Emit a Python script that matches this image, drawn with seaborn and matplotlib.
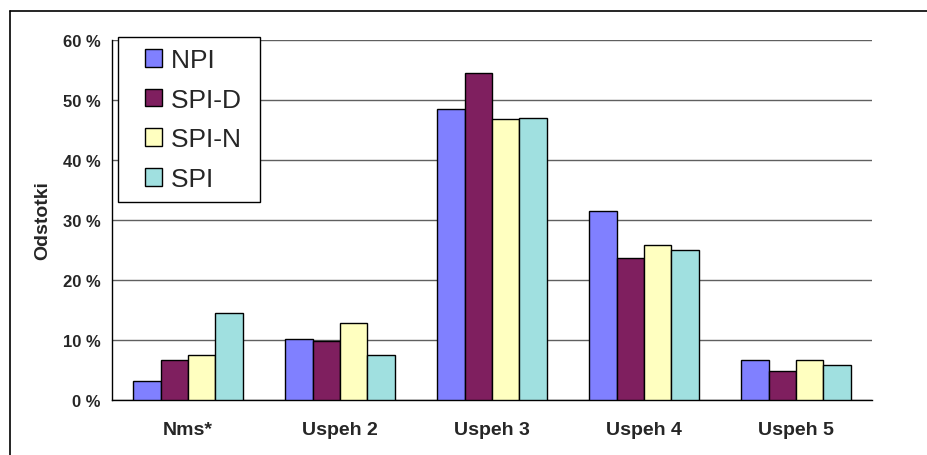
import matplotlib
matplotlib.use("Agg")
import matplotlib.pyplot as plt
from matplotlib.patches import Rectangle
from matplotlib.lines import Line2D
from matplotlib.legend_handler import HandlerPatch
from matplotlib.ticker import FixedLocator, FuncFormatter
import seaborn as sns
import pandas as pd

categories = ["Nms*", "Uspeh 2", "Uspeh 3", "Uspeh 4", "Uspeh 5"]
series = ["NPI", "SPI-D", "SPI-N", "SPI"]
npi = [3.2, 10.1, 48.5, 31.5, 6.7]
spi_d = [6.7, 9.9, 54.5, 23.7, 4.9]
spi_n = [7.5, 12.9, 46.8, 25.8, 6.7]
spi = [14.5, 7.5, 47.0, 25.0, 5.8]
colors = ["#8080FF", "#7F1F5F", "#FFFFC0", "#A0E0E0"]

df = pd.DataFrame({
    "kategorija": categories * 4,
    "serija": [s for s in series for _ in categories],
    "odstotek": npi + spi_d + spi_n + spi,
})

sns.set_style("white")
plt.rcParams["font.family"] = ["Liberation Sans", "DejaVu Sans"]

fig = plt.figure(figsize=(9.28, 4.56), dpi=100)
ax = fig.add_axes([0.1207, 0.1206, 0.819, 0.790])

sns.barplot(
    data=df, x="kategorija", y="odstotek", hue="serija",
    order=categories, hue_order=series, palette=colors,
    width=0.72, gap=0, edgecolor="black", linewidth=1.0,
    saturation=1, ax=ax, zorder=3, legend=False,
)

ax.set_ylim(0, 60)
ax.set_xlim(-0.5, len(categories) - 0.5)
ax.set_yticks(range(0, 61, 10))
ax.yaxis.set_major_formatter(FuncFormatter(lambda v, _: f"{int(v)} %"))
ax.grid(axis="y", color="#606060", linewidth=1.0, zorder=0)
ax.set_axisbelow(True)

for side in ["top", "right"]:
    ax.spines[side].set_visible(False)
for side in ["left", "bottom"]:
    ax.spines[side].set_color("black")
    ax.spines[side].set_linewidth(1.0)

ax.tick_params(axis="y", which="major", direction="out", length=4.3, width=1,
               color="black", labelsize=12, pad=4)
ax.tick_params(axis="x", which="major", length=0, labelsize=14, pad=15)
ax.xaxis.set_minor_locator(FixedLocator([i - 0.5 for i in range(len(categories) + 1)]))
ax.tick_params(axis="x", which="minor", direction="out", length=4.3, width=1, color="black")
for lbl in ax.get_xticklabels() + ax.get_yticklabels():
    lbl.set_fontweight("bold")

ax.set_xlabel("")
ax.set_ylabel("Odstotki", fontsize=14, fontweight="bold", labelpad=8)


# legend: square swatch pushed to the right of the handle box
def square_swatch(legend, orig_handle, xdescent, ydescent, width, height, fontsize):
    return Rectangle((width - height - xdescent, -ydescent), height, height)


proxies = [Rectangle((0, 0), 1, 1, facecolor=c, edgecolor="black", linewidth=1.0)
           for c in colors]
leg = ax.legend(
    proxies, [s + " " for s in series], loc="upper left",
    bbox_to_anchor=(118 / 928, 1 - 38 / 456), bbox_transform=fig.transFigure,
    prop={"size": 19}, frameon=True, fancybox=False, framealpha=1,
    edgecolor="black", handlelength=1.25, handleheight=0.64,
    handletextpad=0.34, labelspacing=0.595, borderpad=0.42, borderaxespad=0,
    handler_map={Rectangle: HandlerPatch(patch_func=square_swatch)},
)
leg.get_frame().set_linewidth(1.0)

# outer chart border (only top and left edges fall inside the picture)
fig.add_artist(Line2D([10 / 928, 10 / 928], [0, 1 - 12 / 456],
                      transform=fig.transFigure, color="black", linewidth=1.2))
fig.add_artist(Line2D([10 / 928, 1], [1 - 12 / 456, 1 - 12 / 456],
                      transform=fig.transFigure, color="black", linewidth=1.2))

fig.savefig("out.png", dpi=100)
